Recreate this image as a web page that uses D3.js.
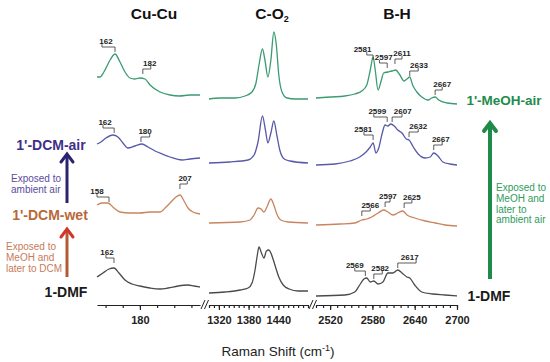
<!DOCTYPE html>
<html><head><meta charset="utf-8">
<script src="https://cdn.jsdelivr.net/npm/d3@7"></script>
<style>body{margin:0;background:#fff}svg{display:block;font-family:"Liberation Sans",Arial,sans-serif}</style>
</head><body><svg id="c" width="550" height="362"></svg>
<script>
// ---------- DATA ----------
const panelTitles = ["Cu-Cu", "C-O", "B-H"];
const sampleNames = ["1'-MeOH-air", "1'-DCM-air", "1'-DCM-wet", "1-DMF"];
const panelDomains = [[155, 215], [1300, 1500], [2500, 2700]];
const tickLabelsCu = [180];
const tickLabelsCO = [1320, 1380, 1440];
const tickLabelsBH = [2520, 2580, 2640, 2700];

// spectra: [Raman shift (cm-1), stacked intensity (a.u.)]
const cuMeOHair = [[155,228],[156.7,228],[159,233],[162.6,245],[165.5,251],[168.4,243],[171.3,233],[174.2,227],[177,226],[180,227],[183,226],[185.9,220],[191.7,213],[197.5,210],[203,209],[209,210],[215,210]];
const cuDCMair = [[155,161],[157.3,163],[160.2,167],[164.3,170],[167.2,168],[170.1,162],[173,157],[177.1,159],[181.2,161],[184.7,158],[188.8,154],[192.9,151],[197.5,148],[204.5,145],[209.2,146],[215,147]];
const cuDCMwet = [[155,100],[157.9,102],[161.4,102],[164.9,97],[168.4,93],[174.2,92],[180,92],[185.9,93],[191.7,93],[195.2,98],[198.1,103],[201,108],[203.3,110],[205.7,104],[208,97],[210.9,93],[215,91]];
const cuDMF = [[155,28],[158.5,32],[162,36],[164.9,37],[167.8,32],[171.3,25],[175.4,21],[180,19],[185.9,17],[191.7,16],[196.4,17],[202.2,19],[208,20],[211.5,19],[215,18]];

const coMeOHair = [[1300,206],[1322,207],[1352.5,207],[1372.7,209],[1386.9,213],[1394.9,222],[1401,240],[1408,256],[1413,245],[1419,228],[1425,245],[1431,273],[1436,260],[1441,230],[1447.5,213],[1457.6,207],[1473.7,206],[1500,206]];
const coDCMair = [[1300,142],[1342,143],[1379,145],[1391,150],[1399,163],[1408,189],[1414,175],[1419,162],[1425,172],[1431,184],[1437,170],[1443,155],[1452,146],[1464,144],[1500,142]];
const coDCMwet = [[1300,82],[1363,83],[1383,85],[1391,90],[1399,97],[1405,96],[1411,93],[1417,98],[1425,106],[1431,100],[1437,91],[1445,85],[1460,83],[1500,82]];
const coDMF = [[1300,12],[1332,13],[1363,15],[1379,17],[1387,22],[1393,35],[1397,48],[1401,58],[1406,52],[1411,47],[1416,54],[1421,55],[1425,52],[1430,45],[1435,37],[1441,28],[1450,20],[1462,16],[1480,14],[1500,14]];

const bhMeOHair = [[2500,207],[2520,208],[2541,209],[2555,211],[2565,214],[2572,220],[2577,235],[2581,248],[2584,235],[2588,215],[2592,223],[2596,232],[2602,233],[2608,234],[2613,235],[2619,230],[2625,224],[2629,226],[2633,228],[2637,220],[2643,213],[2650,208],[2659,205],[2664,207],[2669,208],[2674,205],[2686,202],[2700,201]];
const bhDCMair = [[2500,140],[2527,141],[2548,144],[2562,148],[2571,153],[2577,158],[2581,162],[2585,152],[2589,157],[2594,172],[2598,180],[2602,179],[2606,181],[2611,179],[2616,175],[2622,172],[2628,166],[2632,165],[2638,158],[2645,151],[2655,147],[2662,148],[2667,152],[2673,149],[2680,143],[2690,141],[2700,140]];
const bhDCMwet = [[2500,80],[2534,81],[2555,82],[2565,85],[2572,86],[2579,88],[2588,92],[2596,95],[2602,93],[2609,90],[2616,92],[2623,94],[2629,90],[2640,87],[2655,84],[2669,82],[2683,80],[2700,79]];
const bhDMF = [[2500,9],[2541,10],[2555,13],[2562,20],[2568,26],[2572,27],[2577,23],[2582,24],[2588,21],[2595,23],[2602,32],[2609,32],[2616,35],[2622,32],[2629,28],[2633,27],[2640,20],[2650,13],[2665,11],[2683,10],[2700,9]];

// peak labels: [label, peak shift, bracket-end shift, label-centre shift, bracket level]
const peaksCu = [["162",165.5,157.9,160.2,258],["182",181.7,186.3,185.7,236],["162",165,158.5,159.7,177],["180",180.6,185.7,183,168],["158",162,155,155,108],["207",203.3,207.6,206.3,121],["162",164.9,160.2,160.8,47]];
const peaksBH = [["2581",2581,2572,2566,250],["2597",2601,2590,2596,242],["2611",2612,2622,2622,246],["2633",2633,2645,2646,234],["2667",2669,2679,2679,215],
  ["2581",2581,2568,2567,170],["2599",2601,2582,2587,188],["2607",2608,2622,2623,188],["2632",2632,2645,2645,173],["2667",2667,2679,2677,160],
  ["2566",2565,2577,2577,94],["2597",2598,2605,2602,103],["2625",2625,2636,2636,102],
  ["2569",2570,2555,2555,34],["2582",2582,2594,2591,31],["2617",2616,2642,2633,42]];

// ---------- LAYOUT / STYLE ----------
const svg = d3.select("#c");
const colors = ["#3b9b72", "#5759a9", "#c8855e", "#4a4a4a"];
const y = d3.scaleLinear().domain([0, 290]).range([305, 15]);
const ranges = [[97, 200], [209, 308], [316, 457]];
const xs = panelDomains.map((d, i) => d3.scaleLinear().domain(d).range(ranges[i]));
const spectra = [[cuMeOHair, cuDCMair, cuDCMwet, cuDMF], [coMeOHair, coDCMair, coDCMwet, coDMF], [bhMeOHair, bhDCMair, bhDCMwet, bhDMF]];

spectra.forEach((set, p) => {
  const line = d3.line().x(d => xs[p](d[0])).y(d => y(d[1])).curve(d3.curveMonotoneX);
  svg.append("g").selectAll("path").data(set).join("path")
    .attr("d", line).attr("fill", "none")
    .attr("stroke", (d, j) => colors[j]).attr("stroke-width", 1.3).attr("stroke-linejoin", "round");
});

// peak annotations
[[0, peaksCu], [2, peaksBH]].forEach(([p, list]) => {
  const X = xs[p];
  const g = svg.append("g");
  list.forEach(([lab, xp, xt, tx, by]) => {
    const yb = y(by);
    g.append("path").attr("d", `M${X(xt)},${yb - 3}V${yb}H${X(xp)}V${yb + 5}`)
      .attr("fill", "none").attr("stroke", "#333").attr("stroke-width", 0.8);
    g.append("text").attr("x", X(tx)).attr("y", yb - 3.5).attr("text-anchor", "middle")
      .attr("font-size", 8).attr("font-weight", "bold").attr("fill", "#222").text(lab);
  });
});

// axes
const tickSets = [tickLabelsCu, tickLabelsCO, tickLabelsBH];
xs.forEach((X, p) => {
  const [a, b] = X.domain();
  const minor = d3.range(Math.ceil(a / 10) * 10, b + 0.1, 10);
  svg.append("g").attr("transform", "translate(0,305)")
    .call(d3.axisBottom(X).tickValues(minor).tickSize(3).tickSizeOuter(0).tickFormat(""))
    .call(g => g.selectAll("line,path").attr("stroke", "#222").attr("stroke-width", 1.2));
  const gM = svg.append("g").attr("transform", "translate(0,305)")
    .call(d3.axisBottom(X).tickValues(tickSets[p]).tickSize(5).tickSizeOuter(0).tickPadding(6).tickFormat(d3.format("d")));
  gM.select(".domain").remove();
  gM.selectAll("line").attr("stroke", "#222").attr("stroke-width", 1.2);
  gM.selectAll("text").attr("font-size", 11).attr("font-weight", "bold").attr("fill", "#222")
    .attr("font-family", '"Liberation Sans",Arial,sans-serif');
});
// axis break marks
[201, 309].forEach(bx => {
  [0, 3.5].forEach(o => svg.append("line").attr("x1", bx + o).attr("y1", 309).attr("x2", bx + o + 4).attr("y2", 300)
    .attr("stroke", "#222").attr("stroke-width", 1));
});

// panel titles
const titleX = [154, 272, 397];
panelTitles.forEach((t, i) => {
  const tt = svg.append("text").attr("x", titleX[i]).attr("y", 19).attr("text-anchor", "middle")
    .attr("font-size", 15.5).attr("font-weight", "bold").attr("fill", "#111").text(t);
  if (i === 1) tt.append("tspan").attr("font-size", 9).attr("dy", 3).text("2");
});

// x-axis title
const xt = svg.append("text").attr("x", 278).attr("y", 356).attr("text-anchor", "middle")
  .attr("font-size", 13.5).attr("fill", "#222").text("Raman Shift (cm");
xt.append("tspan").attr("font-size", 9).attr("dy", -5).text("-1");
xt.append("tspan").attr("dy", 5).text(")");

// sample labels
const lab = (x, yy, t, c, fs) => svg.append("text").attr("x", x).attr("y", yy).attr("text-anchor", "middle")
  .attr("font-size", fs).attr("font-weight", "bold").attr("fill", c).text(t);
lab(51, 150, sampleNames[1], "#3f2f88", 14);
lab(50, 220, sampleNames[2], "#b8693a", 14);
lab(66, 297, sampleNames[3], "#1a1a1a", 14);
lab(504, 105, sampleNames[0], "#1f8b4c", 13.5);
lab(489, 301, sampleNames[3], "#1a1a1a", 14);

// arrows
const arrow = (x, y0, y1, c, w, hc) => {
  svg.append("line").attr("x1", x).attr("x2", x).attr("y1", y0).attr("y2", y1 + 2)
    .attr("stroke", c).attr("stroke-width", w);
  svg.append("path").attr("d", `M${x - 6},${y1 + 9}L${x},${y1 + 1}L${x + 6},${y1 + 9}`)
    .attr("fill", "none").attr("stroke", hc || c).attr("stroke-width", w).attr("stroke-linecap", "round");
};
arrow(67, 203, 153, "#2d2270", 3);
arrow(67, 277, 228, "#b45a32", 3, "#d2352a");
arrow(490, 279, 122, "#1e8b4a", 4);

// notes
const note = (x, y0, lines, c) => lines.forEach((t, i) => svg.append("text").attr("x", x).attr("y", y0 + i * 10.8)
  .attr("font-size", 10).attr("fill", c).text(t));
note(11, 182, ["Exposed to", "ambient air"], "#5b4c9e");
note(6, 250, ["Exposed to", "MeOH and", "later to DCM"], "#c97a58");
note(496, 191, ["Exposed to", "MeOH and", "later to", "ambient air"], "#2e9c5c");
</script></body></html>
